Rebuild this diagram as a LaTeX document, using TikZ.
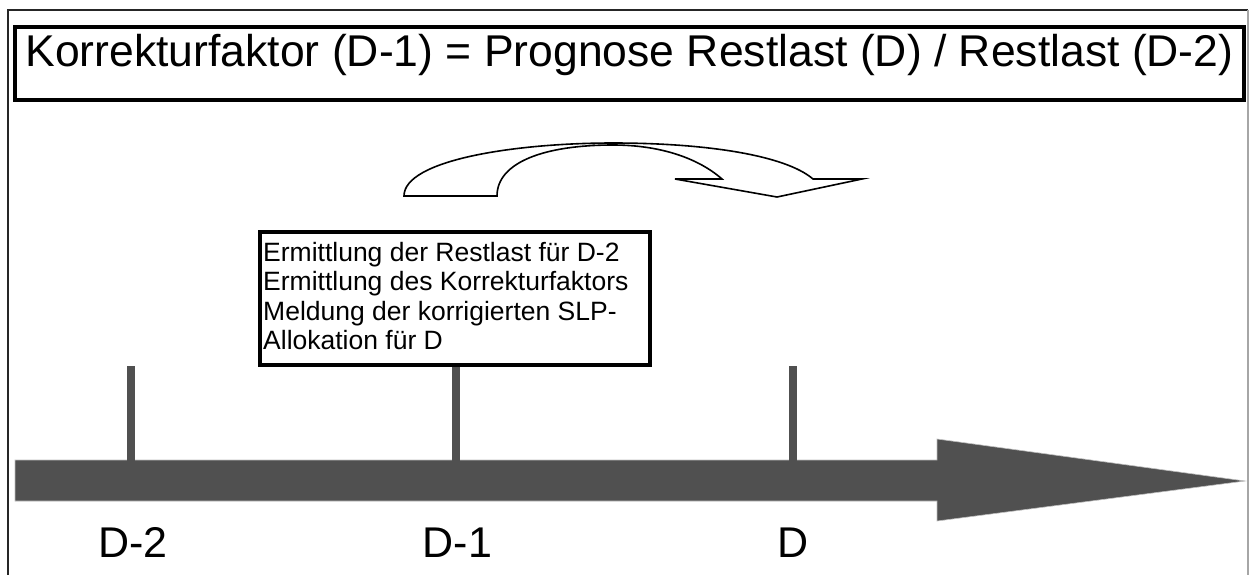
\documentclass[tikz,border=0pt]{standalone}
\usepackage{fontspec}
\setmainfont{Liberation Sans}
\definecolor{axisgray}{RGB}{80,80,80}
\definecolor{edgegray}{RGB}{190,190,190}
\begin{document}
\begin{tikzpicture}[x=1pt,y=-1pt,
  frameline/.style={line width=1.5pt, draw=black!85},
  titlebox/.style={draw, line width=3.5pt, inner sep=0pt, minimum width=1229pt,
    text height=40pt, text depth=33pt, font=\fontsize{44.5}{50}\selectfont},
  infobox/.style={draw, line width=4pt, inner sep=0pt, minimum width=390pt, minimum height=133pt},
  infotext/.style={inner sep=0pt, align=left, font=\fontsize{26.5}{29.3}\selectfont},
  axisshape/.style={fill=axisgray, draw=edgegray, line width=0.6pt},
  tickbar/.style={fill=axisgray},
  daylabel/.style={anchor=base, inner sep=0pt, font=\fontsize{43}{50}\selectfont},
  bentarrow/.style={fill=white, draw=black, line width=1.6pt, line join=miter}
]
\useasboundingbox (0,0) rectangle (1251,574);
\fill[white] (0,0) rectangle (1251,574);
% outer frame
\draw[frameline] (8,590) -- (8,10) -- (1248,10);
\draw[frameline, draw=black!35] (1248,10) -- (1248,590);
% title
\node[titlebox] (title) at (629.5,25) [anchor=north] {Korrekturfaktor (D-1) = Prognose Restlast (D) / Restlast (D-2)};
% bent arrow
\draw[bentarrow] (404,196) .. controls (404,160) and (515,143) .. (613,143)
  .. controls (705,143) and (785,155) .. (813,179)
  -- (862,179) -- (777,197) -- (675,179) -- (722,179)
  .. controls (698,158) and (660,145) .. (613,145)
  .. controls (545,145) and (497,162) .. (497,196) -- cycle;
% axis
\coordinate (t2) at (131,460);
\coordinate (t1) at (456,460);
\coordinate (t0) at (793,460);
\draw[axisshape] (15,460) -- (937,460) -- (937,439) -- (1245,481) -- (937,521) -- (937,501) -- (15,501) -- cycle;
\fill[tickbar] ([xshift=-4pt,yshift=-1pt]t2) rectangle ([xshift=4pt,yshift=94pt]t2);
\fill[tickbar] ([xshift=-4pt,yshift=-1pt]t1) rectangle ([xshift=4pt,yshift=95pt]t1);
\fill[tickbar] ([xshift=-4pt,yshift=-1pt]t0) rectangle ([xshift=4pt,yshift=94pt]t0);
% info box
\node[infobox] (box) at (455,298.5) {};
\node[infotext, anchor=north west] (boxtext) at (263,242) {Ermittlung der Restlast für D-2\\Ermittlung des Korrekturfaktors\\Meldung der korrigierten SLP-\\Allokation für D};
% labels
\node[daylabel] (l2) at (133,557) {D-2};
\node[daylabel] (l1) at (457.5,557) {D-1};
\node[daylabel] (l0) at (793.5,557) {D};
\end{tikzpicture}
\end{document}
